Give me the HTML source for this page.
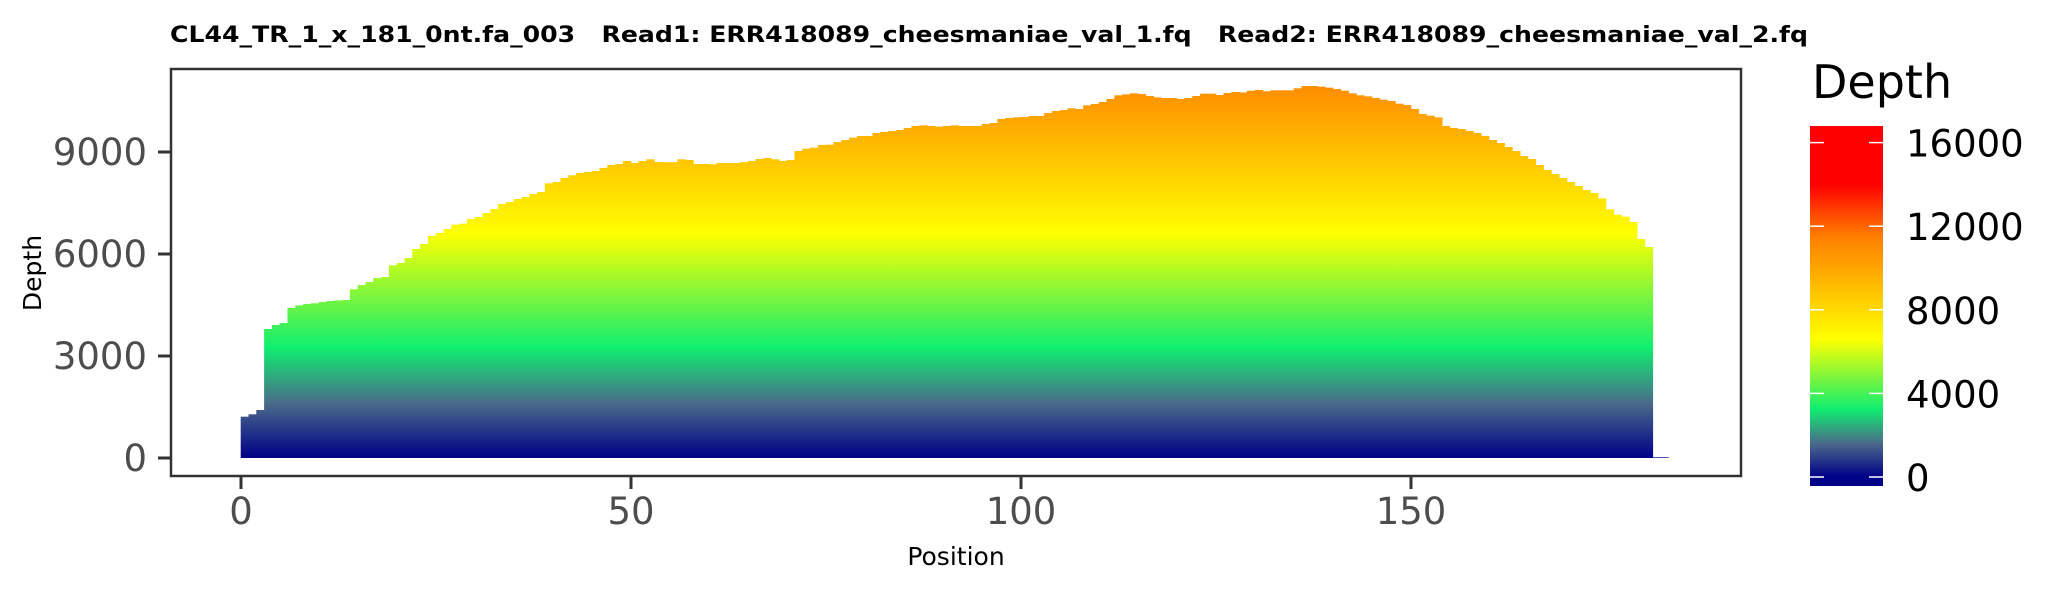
<!DOCTYPE html>
<html><head><meta charset="utf-8"><style>
html,body{margin:0;padding:0;background:#fff;}
svg{display:block;font-family:"DejaVu Sans","Liberation Sans",sans-serif;}
</style></head><body>
<svg id="chart" width="2066" height="590" viewBox="0 0 2066 590" xmlns="http://www.w3.org/2000/svg">
<defs>
<linearGradient id="plotGrad" gradientUnits="userSpaceOnUse" x1="0" x2="0"></linearGradient>
<linearGradient id="legGrad" gradientUnits="userSpaceOnUse" x1="0" x2="0"></linearGradient>
</defs>
<rect width="2066" height="590" fill="#fff"/>
<text x="170" y="42" font-size="22" font-weight="bold" fill="#000" textLength="1638" lengthAdjust="spacingAndGlyphs" style="white-space:pre">CL44_TR_1_x_181_0nt.fa_003   Read1: ERR418089_cheesmaniae_val_1.fq   Read2: ERR418089_cheesmaniae_val_2.fq</text>
<g id="bars"></g>
<rect x="171" y="69" width="1570" height="407" fill="none" stroke="#333" stroke-width="2.5"/>
<g id="yaxis"></g>
<g id="xaxis"></g>
<text x="0" y="0" font-size="25" fill="#000" text-anchor="middle" transform="translate(41,273) rotate(-90)">Depth</text>
<text x="956" y="565" font-size="25" fill="#000" text-anchor="middle">Position</text>
<g id="legend">
<text x="1812" y="98" font-size="46" fill="#000">Depth</text>
<rect x="1810" y="126" width="73" height="360" fill="url(#legGrad)"/>
</g>
</svg>
<script>
const depthValues = [1215,1285,1412,3794,3912,3970,4412,4490,4530,4550,4588,4618,4637,4647,4961,5088,5176,5294,5323,5667,
5735,5882,6147,6294,6529,6618,6735,6862,6892,7029,7088,7206,7323,7470,7529,7618,7676,7765,7823,8079,
8118,8235,8314,8382,8412,8441,8529,8618,8647,8735,8676,8735,8785,8706,8700,8700,8785,8765,8647,8647,
8637,8676,8676,8676,8700,8735,8794,8824,8785,8735,8765,9029,9098,9127,9206,9216,9294,9353,9421,9470,
9470,9559,9588,9618,9647,9706,9765,9785,9765,9745,9765,9785,9765,9765,9765,9824,9853,9970,10000,10020,
10030,10059,10059,10147,10206,10235,10285,10265,10373,10412,10471,10559,10667,10696,10726,10706,10647,10608,10588,10588,
10559,10588,10647,10716,10716,10676,10735,10765,10750,10800,10824,10784,10814,10814,10814,10873,10941,10941,10922,10892,
10853,10804,10726,10667,10637,10588,10539,10500,10421,10382,10265,10118,10069,10020,9765,9706,9676,9618,9559,9470,
9353,9265,9147,9029,8882,8794,8618,8471,8353,8235,8118,8000,7882,7794,7637,7314,7157,7098,6941,6441,
6206,20,20];
const yTicks = [0,3000,6000,9000];
const xTicks = [0,50,100,150];
const legendTicks = [0,4000,8000,12000,16000];
const colorStopValues = [0,1600,3250,6600,10000,11500,14000,16800];
const colorStopColors = ["#000088","#4a6a8a","#10ee70","#ffff00","#ffa500","#ff7f00","#ff0000","#ff0000"];

const NS="http://www.w3.org/2000/svg";
function xS(p){return 241 + p*7.8;}
function yS(v){return 458 - v*0.034;}
function lS(v){return 477 - v*0.0209;}
function mk(tag,attrs,parent){const e=document.createElementNS(NS,tag);for(const k in attrs)e.setAttribute(k,attrs[k]);parent.appendChild(e);return e;}

function fillGrad(id,scale){
  const g=document.getElementById(id);
  g.setAttribute('y1',scale(0));g.setAttribute('y2',scale(16800));
  colorStopValues.forEach((v,i)=>{mk('stop',{offset:v/16800,'stop-color':colorStopColors[i]},g);});
}
fillGrad('plotGrad',yS);fillGrad('legGrad',lS);

const bars=document.getElementById('bars');
depthValues.forEach((v,i)=>{
  const r=mk('rect',{x:xS(i)-0.3,y:yS(v),width:7.8+0.6,height:yS(0)-yS(v),fill:'url(#plotGrad)'},bars);
  
  
});

const ya=document.getElementById('yaxis');
yTicks.forEach(v=>{
  const l=mk('line',{x1:158,x2:171,y1:yS(v),y2:yS(v),stroke:'#333','stroke-width':3},ya);
  
  
  const t=mk('text',{x:147,y:yS(v)+13,'font-size':37,fill:'#4d4d4d','text-anchor':'end'},ya);
  t.textContent=v;
  
  
});
const xa=document.getElementById('xaxis');
xTicks.forEach(v=>{
  const l=mk('line',{x1:xS(v),x2:xS(v),y1:476,y2:489,stroke:'#333','stroke-width':3},xa);
  
  
  const t=mk('text',{x:xS(v),y:524,'font-size':37,fill:'#4d4d4d','text-anchor':'middle'},xa);
  t.textContent=v;
  
  
});
const lg=document.getElementById('legend');
legendTicks.forEach(v=>{
  [[1810,1824],[1869,1883]].forEach(([a,b])=>{
    const l=mk('line',{x1:a,x2:b,y1:lS(v),y2:lS(v),stroke:'#fff','stroke-width':1.5},lg);
    
    
  });
  const t=mk('text',{x:1906,y:lS(v)+14,'font-size':37,fill:'#000'},lg);
  t.textContent=v;
  
  
});
</script>
</body></html>
